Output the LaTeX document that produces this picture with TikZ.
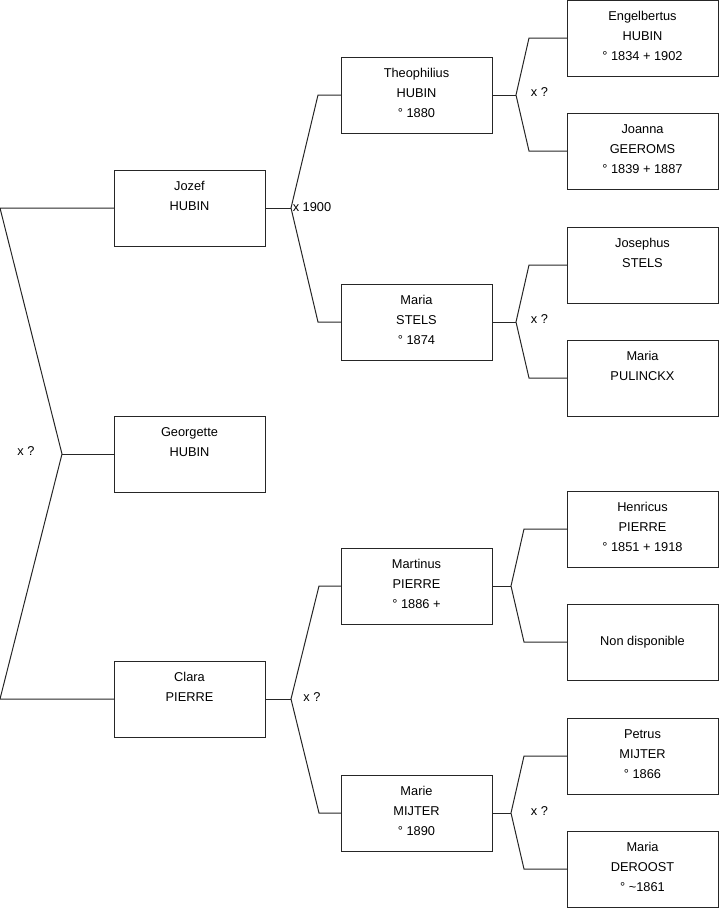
\documentclass[tikz,border=0pt]{standalone}
\usepackage{fontspec}
\setmainfont{Liberation Sans}
\newcommand{\pinfo}[1]{\parbox[c][57pt][t]{113.25pt}{\centering\rule{0pt}{15.6pt}#1}}
\newcommand{\pmid}[1]{\parbox[c][57pt][c]{113.25pt}{\centering #1}}
\begin{document}
\begin{tikzpicture}[x=0.75pt,y=-0.75pt,
  person/.style={draw=black!85,line width=0.75pt,inner sep=0pt,outer sep=0pt,
    font=\fontsize{9.6pt}{15pt}\selectfont},
  link/.style={draw=black!85,line width=0.75pt},
  marr/.style={font=\fontsize{9.6pt}{11pt}\selectfont,inner sep=0pt}]
\useasboundingbox (0,0) rectangle (719,908);
% column 1
\node[person] (jozef) at (189.5,208) {\pinfo{Jozef\\HUBIN}};
\node[person] (georgette) at (189.5,454) {\pinfo{Georgette\\HUBIN}};
\node[person] (clara) at (189.5,699) {\pinfo{Clara\\PIERRE}};
% column 2
\node[person] (theo) at (416.5,95) {\pinfo{Theophilius\\HUBIN\\° 1880}};
\node[person] (stels) at (416.5,322) {\pinfo{Maria\\STELS\\° 1874}};
\node[person] (martinus) at (416.5,586) {\pinfo{Martinus\\PIERRE\\° 1886 +}};
\node[person] (marie) at (416.5,813) {\pinfo{Marie\\MIJTER\\° 1890}};
% column 3
\node[person] (engel) at (642.5,38) {\pinfo{Engelbertus\\HUBIN\\° 1834 + 1902}};
\node[person] (joanna) at (642.5,151) {\pinfo{Joanna\\GEEROMS\\° 1839 + 1887}};
\node[person] (josephus) at (642.5,265) {\pinfo{Josephus\\STELS}};
\node[person] (pulinckx) at (642.5,378) {\pinfo{Maria\\PULINCKX}};
\node[person] (henricus) at (642.5,529) {\pinfo{Henricus\\PIERRE\\° 1851 + 1918}};
\node[person] (nondisp) at (642.5,642) {\pmid{Non disponible}};
\node[person] (petrus) at (642.5,756) {\pinfo{Petrus\\MIJTER\\° 1866}};
\node[person] (deroost) at (642.5,869) {\pinfo{Maria\\DEROOST\\° \textasciitilde1861}};
% left bracket
\coordinate (rt) at (62,454);
\coordinate (rj) at (0,208);
\coordinate (rc) at (0,699);
\draw[link] (jozef.west) -- (rj) -- (rt) -- (rc) -- (clara.west);
\draw[link] (rt) -- (georgette.west);
\node[marr] (m0) at (26,451) {x ?};
% Jozef's parents
\coordinate (j1) at (291,208);
\coordinate (j2) at (318,95);
\coordinate (j3) at (318,322);
\draw[link] (jozef.east) -- (j1);
\draw[link] (theo.west) -- (j2) -- (j1) -- (j3) -- (stels.west);
\node[marr,anchor=west] (m1) at (292.5,207) {x 1900};
% Clara's parents
\coordinate (c1) at (291,699);
\coordinate (c2) at (319,586);
\coordinate (c3) at (319,813);
\draw[link] (clara.east) -- (c1);
\draw[link] (martinus.west) -- (c2) -- (c1) -- (c3) -- (marie.west);
\node[marr] (m2) at (312,697) {x ?};
% Theophilius's parents
\coordinate (t1) at (516,95);
\coordinate (t2) at (529,38);
\coordinate (t3) at (529,151);
\draw[link] (theo.east) -- (t1);
\draw[link] (engel.west) -- (t2) -- (t1) -- (t3) -- (joanna.west);
\node[marr] (m3) at (539.5,92) {x ?};
% Stels's parents
\coordinate (s1) at (516,322);
\coordinate (s2) at (529,265);
\coordinate (s3) at (529,378);
\draw[link] (stels.east) -- (s1);
\draw[link] (josephus.west) -- (s2) -- (s1) -- (s3) -- (pulinckx.west);
\node[marr] (m4) at (539.5,319) {x ?};
% Martinus's parents
\coordinate (p1) at (511,586);
\coordinate (p2) at (524,529);
\coordinate (p3) at (524,642);
\draw[link] (martinus.east) -- (p1);
\draw[link] (henricus.west) -- (p2) -- (p1) -- (p3) -- (nondisp.west);
% Marie's parents
\coordinate (q1) at (511,813);
\coordinate (q2) at (524,756);
\coordinate (q3) at (524,869);
\draw[link] (marie.east) -- (q1);
\draw[link] (petrus.west) -- (q2) -- (q1) -- (q3) -- (deroost.west);
\node[marr] (m5) at (539.5,811) {x ?};
\end{tikzpicture}
\end{document}
